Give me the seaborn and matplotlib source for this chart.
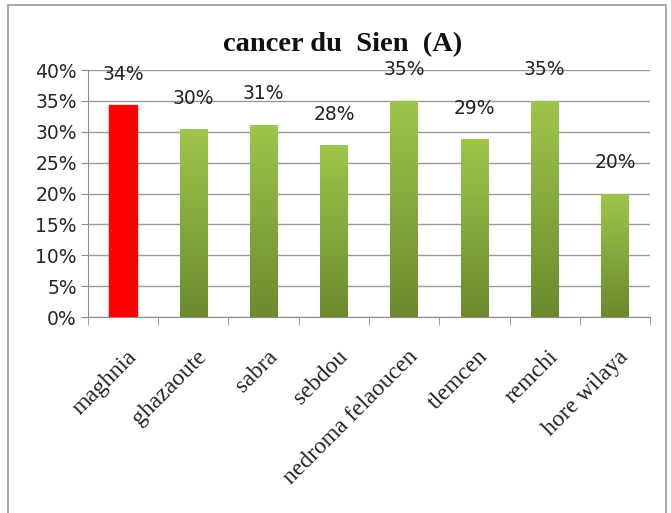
import matplotlib
matplotlib.use("Agg")
import matplotlib.pyplot as plt
import matplotlib.transforms as mtransforms
import numpy as np
import pandas as pd
import seaborn as sns
from matplotlib.colors import LinearSegmentedColormap
from matplotlib.patches import Rectangle
from matplotlib.ticker import FuncFormatter, MultipleLocator

# Données
regions = ["maghnia", "ghazaoute", "sabra", "sebdou", "nedroma felaoucen",
           "tlemcen", "remchi", "hore wilaya"]
taux = [0.343, 0.304, 0.311, 0.278, 0.350, 0.288, 0.350, 0.200]
etiquettes = ["34%", "30%", "31%", "28%", "35%", "29%", "35%", "20%"]

df = pd.DataFrame({"region": regions, "taux": taux})

sns.set_style("white")
plt.rcParams["font.family"] = ["DejaVu Sans"]

fig = plt.figure(figsize=(6.71, 5.13), dpi=100)
ax = fig.add_axes([0.131, 0.382, 0.838, 0.4815])

# Barres (seaborn), puis dégradé vert par-dessus
sns.barplot(data=df, x="region", y="taux", color="#8DB03F", width=0.39,
            ax=ax, zorder=3)
green = LinearSegmentedColormap.from_list("g", ["#6C8A2E", "#9DC64A"])
grad = np.linspace(0, 1, 256).reshape(-1, 1)
for i, patch in enumerate(ax.patches):
    x0, y0 = patch.get_x(), patch.get_y()
    w, h = patch.get_width(), patch.get_height()
    if i == 0:
        patch.set_facecolor("#FF0000")
        patch.set_edgecolor("#FF0000")
    else:
        patch.set_alpha(0)
        im = ax.imshow(grad, cmap=green, origin="lower", aspect="auto",
                       extent=[x0, x0 + w, y0, y0 + h], zorder=3)
        clip = Rectangle((x0, y0), w, h, transform=ax.transData)
        im.set_clip_path(clip)
    ax.text(x0 + w / 2, y0 + h + 0.035, etiquettes[i], ha="center",
            va="bottom", fontsize=13.5, color="#222222", zorder=4,
            clip_on=False)

ax.set_xlim(-0.5, len(regions) - 0.5)
ax.set_ylim(0, 0.40)
ax.yaxis.set_major_locator(MultipleLocator(0.05))
ax.yaxis.set_major_formatter(FuncFormatter(lambda v, p: f"{v * 100:.0f}%"))
ax.grid(axis="y", color="#999999", linewidth=1, zorder=0)
ax.set_axisbelow(True)

for s in ["top", "right"]:
    ax.spines[s].set_visible(False)
ax.spines["left"].set_color("#8C8C8C")
ax.spines["bottom"].set_color("#8C8C8C")

ax.tick_params(axis="y", left=True, length=5, color="#8C8C8C",
               labelsize=13.5, pad=3)
ax.set_xticks(np.arange(len(regions)))
ax.set_xticks(np.arange(len(regions) + 1) - 0.5, minor=True)
ax.tick_params(axis="x", which="major", length=0, pad=21)
ax.tick_params(axis="x", which="minor", bottom=True, length=6,
               color="#8C8C8C")
ax.set_xticklabels(regions, rotation=45, ha="right", rotation_mode="anchor",
                   fontsize=17, family="Liberation Serif", color="#222222")
decal = mtransforms.ScaledTranslation(3 / 100, 0, fig.dpi_scale_trans)
for lab in ax.get_xticklabels():
    lab.set_transform(lab.get_transform() + decal)
ax.set_xlabel("")
ax.set_ylabel("")

fig.text(0.51, 1 - 45 / 513, "cancer du  Sien  (A)", fontsize=20.5,
         fontweight="bold", family="Liberation Serif", ha="center",
         va="center", color="#111111")

# cadre du graphique
fig.patches.append(Rectangle((0.012, -0.01), 0.98, 1.0, transform=fig.transFigure,
                             fill=False, edgecolor="#9A9A9A", linewidth=1.2))

fig.savefig("out.png", dpi=100)
